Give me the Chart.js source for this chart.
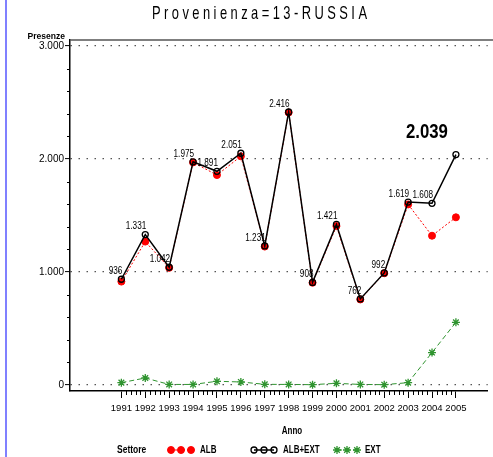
<!DOCTYPE html>
<html>
<head>
<meta charset="utf-8">
<script src="https://cdn.jsdelivr.net/npm/chart.js@4/dist/chart.umd.min.js"></script>
<style>
html,body{margin:0;padding:0;background:#fff;}
canvas{display:block;}
</style>
</head>
<body>
<canvas id="c" width="493" height="457"></canvas>
<script>
const title = "Provenienza=13-RUSSIA";
const yAxisTitle = "Presenze";
const xAxisTitle = "Anno";
const legendTitle = "Settore";
const years = [1991,1992,1993,1994,1995,1996,1997,1998,1999,2000,2001,2002,2003,2004,2005];
const albExt = [936,1331,1042,1975,1891,2051,1231,2416,908,1421,762,992,1619,1608,2039];
const alb = [915,1269,1037,1970,1858,2024,1225,2411,905,1406,757,989,1598,1321,1484];
const ext = [21,62,5,5,33,27,6,5,3,15,5,3,21,287,555];
const yTicks = [0,1000,2000,3000];
const seriesNames = ["ALB","ALB+EXT","EXT"];

const FAM = "'Liberation Sans', Arial, sans-serif";
const fmt = v => v >= 1000 ? Math.floor(v/1000) + "." + String(v%1000).padStart(3,"0") : String(v);
const pts = arr => years.map((y,i)=>({x:y, y:arr[i]}));

function txt(ctx, s, x, y, font, align, sx){
  ctx.save();
  ctx.font = font; ctx.textBaseline='middle'; ctx.textAlign='left';
  const w = ctx.measureText(s).width*sx;
  const x0 = align==='right' ? x-w : align==='center' ? x-w/2 : x;
  ctx.translate(x0, y); ctx.scale(sx,1);
  ctx.fillText(s, 0, 0);
  ctx.restore();
}

const deco = {
  id:'deco',
  beforeDraw(chart){
    const ctx = chart.ctx;
    ctx.save();
    ctx.fillStyle='#fff'; ctx.fillRect(0,0,chart.width,chart.height);
    ctx.fillStyle='#8080ff'; ctx.fillRect(5,0,2,chart.height);
    ctx.restore();
  },
  afterDraw(chart){
    const ctx = chart.ctx, ca = chart.chartArea;
    const xs = chart.scales.x, ys = chart.scales.y;
    ctx.save();
    // top border
    ctx.strokeStyle='#555'; ctx.lineWidth=1.5;
    ctx.beginPath(); ctx.moveTo(ca.left, ca.top); ctx.lineTo(chart.width, ca.top); ctx.stroke();
    // minor ticks
    ctx.strokeStyle='#000'; ctx.lineWidth=1;
    for(let i=0;i<years.length-1;i++){
      for(let k=1;k<5;k++){
        const px = Math.round(xs.getPixelForValue(years[i]+k/5))+0.5;
        ctx.beginPath(); ctx.moveTo(px, ca.bottom); ctx.lineTo(px, ca.bottom+4); ctx.stroke();
      }
    }
    for(let v=0; v<=3000; v+=200){
      if(v%1000===0) continue;
      const py = Math.round(ys.getPixelForValue(v))+0.5;
      ctx.beginPath(); ctx.moveTo(ca.left-3, py); ctx.lineTo(ca.left, py); ctx.stroke();
    }
    ctx.fillStyle='#000';
    // title (condensed, letter-spaced)
    ctx.save();
    ctx.font = "19px " + FAM; ctx.textBaseline='middle'; ctx.textAlign='left';
    const sx = 0.68;
    const w0 = ctx.measureText(title).width;
    const ls = (215/sx - w0)/(title.length-1);
    ctx.letterSpacing = ls + "px";
    ctx.translate(152, 14); ctx.scale(sx,1);
    ctx.fillText(title, 0, 0);
    ctx.restore();
    // y title
    txt(ctx, yAxisTitle, 65, 37, "bold 9px " + FAM, 'right', 0.95);
    // data labels
    const meta = chart.getDatasetMeta(1);
    meta.data.forEach((p,i)=>{
      if(i===albExt.length-1) return;
      txt(ctx, fmt(albExt[i]), p.x+1, p.y-8, "10px " + FAM, 'right', 0.82);
    });
    const last = meta.data[albExt.length-1];
    txt(ctx, fmt(albExt[albExt.length-1]), last.x-8, last.y-22, "bold 19.5px " + FAM, 'right', 0.86);
    // x axis title
    txt(ctx, xAxisTitle, 292, 431, "bold 10px " + FAM, 'center', 0.8);
    // legend
    const ly = 450;
    txt(ctx, legendTitle, 117, ly, "bold 10px " + FAM, 'left', 0.85);
    const starts=[171,254,337], tx=[200,283,365];
    chart.data.datasets.forEach((ds,i)=>{
      const x0 = starts[i];
      ctx.save();
      ctx.strokeStyle = ds.borderColor; ctx.lineWidth = ds.borderWidth;
      ctx.setLineDash(ds.borderDash||[]);
      ctx.beginPath(); ctx.moveTo(x0,ly); ctx.lineTo(x0+20,ly); ctx.stroke();
      ctx.setLineDash([]);
      ctx.strokeStyle = ds.pointBorderColor; ctx.fillStyle = ds.pointBackgroundColor;
      ctx.lineWidth = ds.pointBorderWidth;
      for(let k=0;k<3;k++){
        Chart.helpers.drawPoint(ctx,{pointStyle:ds.pointStyle, radius:ds.pointRadius, borderWidth:ds.pointBorderWidth, rotation:0}, x0+k*10, ly);
      }
      ctx.restore();
      ctx.fillStyle='#000';
      txt(ctx, seriesNames[i], tx[i], ly, "bold 10px " + FAM, 'left', 0.8);
    });
    ctx.restore();
  }
};

new Chart(document.getElementById('c'), {
  type:'line',
  data:{
    datasets:[
      {label:seriesNames[0], data:pts(alb), borderColor:'#ff0000', borderWidth:1, borderDash:[2,2],
       pointStyle:'circle', pointRadius:3.5, pointBackgroundColor:'#ff0000', pointBorderColor:'#ff0000', pointBorderWidth:1, order:1},
      {label:seriesNames[1], data:pts(albExt), borderColor:'#000000', borderWidth:1.5,
       pointStyle:'circle', pointRadius:3, pointBackgroundColor:'rgba(0,0,0,0)', pointBorderColor:'#000000', pointBorderWidth:1.3, order:0},
      {label:seriesNames[2], data:pts(ext), borderColor:'#2f942f', borderWidth:1, borderDash:[5,3],
       pointStyle:'star', pointRadius:4, pointBackgroundColor:'#2f942f', pointBorderColor:'#2f942f', pointBorderWidth:1.3, order:2}
    ]
  },
  options:{
    responsive:false, animation:false,
    layout:{padding:{top:40,left:0,right:0,bottom:0}},
    plugins:{legend:{display:false}, tooltip:{enabled:false}, title:{display:false}},
    elements:{line:{tension:0}},
    scales:{
      x:{type:'linear', min:1988.85, max:2006.33,
        afterBuildTicks:s=>{s.ticks = years.map(v=>({value:v}));},
        afterFit:s=>{s.height=66;},
        ticks:{callback:v=>String(v), color:'#000', font:{family:FAM, size:9.5}, padding:5, maxRotation:0, autoSkip:false},
        grid:{drawOnChartArea:false, drawTicks:true, tickLength:7, tickColor:'#000', tickWidth:1},
        border:{display:true, color:'#000', width:1.5}
      },
      y:{type:'linear', min:-53, max:3053,
        afterBuildTicks:s=>{s.ticks = yTicks.map(v=>({value:v}));},
        afterFit:s=>{s.width=70;},
        ticks:{callback:v=>fmt(v), color:'#000', font:{family:FAM, size:10}, padding:1},
        grid:{drawOnChartArea:true, color:'#555', lineWidth:1.2, drawTicks:true, tickLength:5, tickColor:'#000', tickWidth:1},
        border:{display:true, color:'#000', width:1.5, dash:[1.5,6.5]}
      }
    }
  },
  plugins:[deco]
});
</script>
</body>
</html>
